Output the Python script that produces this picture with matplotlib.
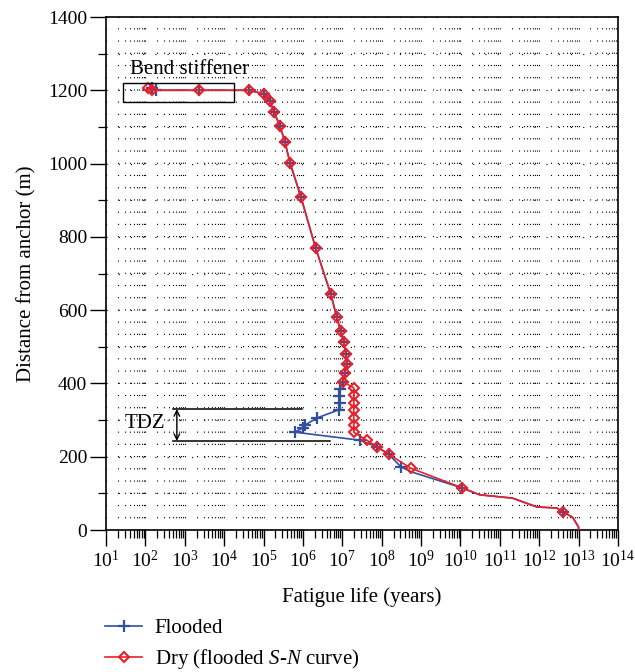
import matplotlib
matplotlib.use('Agg')
import matplotlib.pyplot as plt
from matplotlib.patches import Rectangle
from matplotlib.ticker import LogLocator, MultipleLocator, NullFormatter

plt.rcParams['font.family'] = ['Liberation Serif', 'DejaVu Serif']
plt.rcParams['mathtext.fontset'] = 'custom'
plt.rcParams['mathtext.rm'] = 'Liberation Serif'
plt.rcParams['mathtext.it'] = 'Liberation Serif:italic'
plt.rcParams['lines.scale_dashes'] = False

# Dry (flooded S-N curve): distance from anchor (m) and fatigue life (years)
dry_dist = [1205, 1200, 1200, 1200, 1190, 1171, 1141, 1103, 1059, 1002, 909,
            770, 644, 582, 543, 513, 480, 453, 429, 404,
            388, 368, 347, 327, 307, 287, 267,
            245, 227, 207, 169, 115, 96, 87, 63, 60, 49, 35, 8, 0]
dry_life = [1.2e2, 1.5e2, 2.3e3, 4.3e4, 1.02e5, 1.45e5, 1.83e5, 2.6e5, 3.5e5,
            4.7e5, 8.9e5, 2.1e6, 5.1e6, 7.2e6, 9.1e6, 1.1e7, 1.23e7, 1.3e7,
            1.17e7, 1.05e7,
            1.95e7, 1.95e7, 1.95e7, 1.95e7, 1.95e7, 1.95e7, 1.95e7,
            4.2e7, 7.6e7, 1.5e8, 5.4e8, 1.1e10, 3.1e10, 2.1e11, 8.7e11,
            2.8e12, 4.0e12, 7.0e12, 1.0e13, 1.0e13]
dry_marked = list(range(0, 32)) + [36]

# Flooded
fl_dist = [1205, 1200, 1200, 1200, 1190, 1171, 1141, 1103, 1059, 1002, 909,
           770, 644, 582, 543, 513, 480, 453, 429, 404,
           385, 366, 347, 328, 306, 287, 279, 267,
           245, 227, 207, 172, 158, 115, 96, 87, 63, 60, 49, 35, 8, 0]
fl_life = [1.5e2, 1.9e2, 2.3e3, 4.3e4, 1.02e5, 1.45e5, 1.83e5, 2.6e5, 3.5e5,
           4.7e5, 8.9e5, 2.1e6, 5.1e6, 7.2e6, 9.1e6, 1.1e7, 1.23e7, 1.3e7,
           1.17e7, 1.05e7,
           8.5e6, 8.3e6, 8.6e6, 8.2e6, 2.3e6, 1.15e6, 1.0e6, 6.3e5,
           2.8e7, 7.6e7, 1.5e8, 3.1e8, 5.9e8, 1.1e10, 3.1e10, 2.1e11, 8.7e11,
           2.8e12, 4.0e12, 7.0e12, 1.0e13, 1.0e13]
fl_marked = list(range(0, 32)) + [33, 38]

blue = '#2f4fa0'
red = '#e8202a'

fig = plt.figure(figsize=(6.35, 6.72), dpi=100)
ax = fig.add_axes([0.1669, 0.2113, 0.8063, 0.7634])

ax.plot(fl_life, fl_dist, color=blue, lw=1.2, marker='+', markersize=8,
        mew=1.6, markevery=fl_marked, label='Flooded', zorder=3)
ax.plot(dry_life, dry_dist, color=red, lw=1.2, marker='D', markersize=5,
        mew=1.5, mfc='none', markevery=dry_marked,
        label='Dry (flooded $\\mathit{S}$-$\\mathit{N}$ curve)', zorder=4)

ax.set_xscale('log')
ax.set_xlim(10, 1e14)
ax.set_ylim(0, 1400)
ax.xaxis.set_major_locator(LogLocator(base=10, numticks=20))
ax.xaxis.set_minor_locator(LogLocator(base=10, subs=range(2, 10), numticks=200))
ax.xaxis.set_minor_formatter(NullFormatter())
ax.yaxis.set_major_locator(MultipleLocator(200))
ax.yaxis.set_minor_locator(MultipleLocator(100))

ax.tick_params(which='major', direction='out', length=11.5, width=1.0,
               labelsize=14, pad=2)
ax.tick_params(which='minor', direction='out', length=5.8, width=0.9)
ax.tick_params(axis='x', which='major', pad=3)

dots = (0, (0.8, 8.0))
ax.grid(True, axis='x', which='both', color='black', lw=0.8, linestyle=dots)
ax.grid(True, axis='y', which='both', color='black', lw=0.8, linestyle=dots)
ax.set_axisbelow(True)
for s in ax.spines.values():
    s.set_linewidth(1.2)

ax.set_xlabel('Fatigue life (years)', fontsize=15, labelpad=11)
ax.set_ylabel('Distance from anchor (m)', fontsize=15, labelpad=8)

# Bend stiffener box
ax.add_patch(Rectangle((27, 1168), 1.8e4 - 27, 52, fill=False, lw=1.0,
                       color='black', zorder=5))
ax.text(40, 1257, 'Bend stiffener', fontsize=15, va='center', ha='left')

# TDZ marks
ax.plot([500, 9.3e5], [330, 330], color='black', lw=1.1, zorder=2)
ax.plot([500, 4.9e6], [243, 243], color='black', lw=1.1, zorder=2)
ax.annotate('', xy=(630, 243), xytext=(630, 330),
            arrowprops=dict(arrowstyle='<->', lw=1.0, color='black',
                            shrinkA=0, shrinkB=0))
ax.text(30, 290, 'TDZ', fontsize=15, va='center', ha='left')

fig.legend(loc='upper left', bbox_to_anchor=(0.165, 0.080), frameon=False,
           fontsize=15, handlelength=1.8, handletextpad=0.6,
           labelspacing=0.45, borderpad=0, borderaxespad=0)

fig.savefig('out.png', dpi=100)
